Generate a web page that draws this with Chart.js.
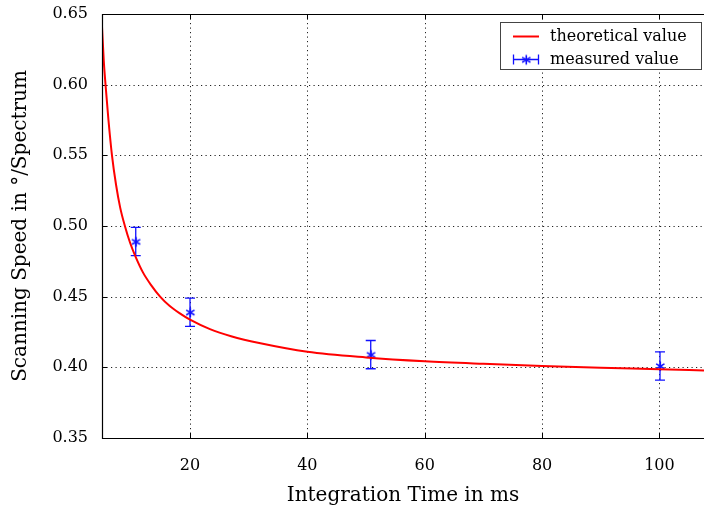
<!DOCTYPE html>
<html>
<head>
<meta charset="utf-8">
<script src="https://cdn.jsdelivr.net/npm/chart.js@4"></script>
<style>
    html, body { margin: 0; padding: 0; background: #fff; }
    #wrap { width: 704px; height: 511px; }
</style>
</head>
<body>
<div id="wrap"><canvas id="speedChart" width="704" height="511"></canvas></div>
<script>
const xTicks = [20, 40, 60, 80, 100];
const yTicks = [0.35, 0.40, 0.45, 0.50, 0.55, 0.60, 0.65];

// theoretical curve
const theoryX = [5.0, 5.3, 5.6, 6.1, 6.7, 7.4, 8.1, 8.9, 9.8, 10.75, 12.0, 13.4, 14.9, 16.5, 18.2, 20.0,
    23.4, 27.0, 32.0, 40.0, 50.0, 60.0, 70.0, 80.0, 90.0, 100.0, 107.6];
const theoryY = [0.641, 0.617, 0.600, 0.575, 0.550, 0.529, 0.513, 0.500, 0.488, 0.478, 0.467, 0.458, 0.450, 0.4435, 0.4383, 0.4337,
    0.427, 0.422, 0.417, 0.411, 0.407, 0.4043, 0.4025, 0.4010, 0.3997, 0.3987, 0.3978];

// measured points with their error
const measX = [10.75, 20.0, 50.8, 100.1];
const measY = [0.489, 0.439, 0.409, 0.401];
const measErr = [0.01, 0.01, 0.01, 0.01];

const blue = '#1010ff';
const red = '#ff0000';

// asterisk marker (3 strokes)
function makeAsterisk(r) {
    const c = document.createElement('canvas');
    const s = r * 2 + 3;
    c.width = s; c.height = s;
    const g = c.getContext('2d');
    g.strokeStyle = blue;
    g.lineWidth = 1.6;
    g.translate(s / 2, s / 2);
    for (let k = 0; k < 3; k++) {
        const a = Math.PI / 2 + k * Math.PI / 3;
        g.beginPath();
        g.moveTo(Math.cos(a) * r, Math.sin(a) * r);
        g.lineTo(-Math.cos(a) * r, -Math.sin(a) * r);
        g.stroke();
    }
    return c;
}
const star = makeAsterisk(4.8);

function drawErrBar(ctx, x, yTop, yBot) {
    ctx.beginPath();
    ctx.moveTo(x, yTop); ctx.lineTo(x, yBot);
    ctx.moveTo(x - 5, yTop); ctx.lineTo(x + 5, yTop);
    ctx.moveTo(x - 5, yBot); ctx.lineTo(x + 5, yBot);
    ctx.stroke();
}

const framePlugin = {
    id: 'frame',
    beforeDatasetsDraw(chart) {
        const ctx = chart.ctx;
        const area = chart.chartArea;
        const xs = chart.scales.x, ys = chart.scales.y;
        ctx.save();
        // dotted grid
        ctx.strokeStyle = '#222';
        ctx.lineWidth = 1;
        ctx.setLineDash([1.2, 3.3]);
        xTicks.forEach(v => {
            const px = Math.round(xs.getPixelForValue(v)) + 0.5;
            ctx.beginPath(); ctx.moveTo(px, area.top); ctx.lineTo(px, area.bottom); ctx.stroke();
        });
        yTicks.slice(1, -1).forEach(v => {
            const py = Math.round(ys.getPixelForValue(v)) + 0.5;
            ctx.beginPath(); ctx.moveTo(area.left, py); ctx.lineTo(area.right, py); ctx.stroke();
        });
        ctx.setLineDash([]);
        // inner tick marks
        ctx.strokeStyle = '#000';
        xTicks.forEach(v => {
            const px = Math.round(xs.getPixelForValue(v)) + 0.5;
            ctx.beginPath();
            ctx.moveTo(px, area.bottom); ctx.lineTo(px, area.bottom - 5);
            ctx.moveTo(px, area.top); ctx.lineTo(px, area.top + 5);
            ctx.stroke();
        });
        yTicks.forEach(v => {
            const py = Math.round(ys.getPixelForValue(v)) + 0.5;
            ctx.beginPath(); ctx.moveTo(area.left, py); ctx.lineTo(area.left + 5, py); ctx.stroke();
        });
        // error bars
        ctx.strokeStyle = blue;
        ctx.lineWidth = 1.3;
        measX.forEach((v, i) => {
            const px = xs.getPixelForValue(v);
            drawErrBar(ctx, px, ys.getPixelForValue(measY[i] + measErr[i]), ys.getPixelForValue(measY[i] - measErr[i]));
        });
        ctx.restore();
    },
    afterDraw(chart) {
        const ctx = chart.ctx;
        const area = chart.chartArea;
        ctx.save();
        // axis border: left, top, bottom
        ctx.strokeStyle = '#000';
        ctx.lineWidth = 1.2;
        ctx.beginPath();
        ctx.moveTo(area.right, area.top + 0.5);
        ctx.lineTo(area.left + 0.5, area.top + 0.5);
        ctx.lineTo(area.left + 0.5, area.bottom + 0.5);
        ctx.lineTo(area.right, area.bottom + 0.5);
        ctx.stroke();

        // legend box
        const bx = 500.5, by = 22.5, bw = 201, bh = 47;
        ctx.fillStyle = '#fff';
        ctx.fillRect(bx, by, bw, bh);
        ctx.strokeStyle = '#444';
        ctx.lineWidth = 1;
        ctx.strokeRect(bx, by, bw, bh);
        const y1 = 36.5, y2 = 59.5;
        ctx.strokeStyle = red;
        ctx.lineWidth = 2;
        ctx.beginPath(); ctx.moveTo(513, y1); ctx.lineTo(539, y1); ctx.stroke();
        ctx.strokeStyle = blue;
        ctx.lineWidth = 1.3;
        ctx.beginPath();
        ctx.moveTo(513, y2); ctx.lineTo(539, y2);
        ctx.moveTo(513.5, y2 - 5); ctx.lineTo(513.5, y2 + 5);
        ctx.moveTo(538.5, y2 - 5); ctx.lineTo(538.5, y2 + 5);
        ctx.stroke();
        ctx.drawImage(star, 526 - star.width / 2, y2 - star.height / 2);
        ctx.fillStyle = '#000';
        ctx.font = '16px "DejaVu Serif"';
        ctx.textBaseline = 'middle';
        ctx.fillText('theoretical value', 550, y1);
        ctx.fillText('measured value', 550, y2);
        ctx.restore();
    }
};

Chart.defaults.color = '#000';
Chart.defaults.font.family = '"DejaVu Serif", serif';

new Chart(document.getElementById('speedChart').getContext('2d'), {
    type: 'line',
    data: {
        datasets: [
            {
                label: 'theoretical value',
                data: theoryX.map((x, i) => ({ x: x, y: theoryY[i] })),
                borderColor: red,
                borderWidth: 2,
                pointRadius: 0,
                fill: false,
                cubicInterpolationMode: 'monotone'
            },
            {
                label: 'measured value',
                data: measX.map((x, i) => ({ x: x, y: measY[i] })),
                showLine: false,
                pointStyle: star,
                pointRadius: 5,
                borderColor: blue,
                backgroundColor: blue
            }
        ]
    },
    options: {
        responsive: false,
        animation: false,
        layout: { autoPadding: false, padding: { top: 14, right: 0, left: 0, bottom: 0 } },
        plugins: {
            legend: { display: false },
            tooltip: { enabled: false }
        },
        scales: {
            x: {
                type: 'linear',
                min: 5,
                max: 107.6,
                afterBuildTicks: s => { s.ticks = xTicks.map(v => ({ value: v })); },
                afterFit: s => { s.height = 73; s.paddingLeft = 0; s.paddingRight = 0; },
                grid: { display: false, drawTicks: false },
                border: { display: false },
                ticks: { padding: 18, font: { size: 16 }, callback: v => String(v) },
                title: { display: true, text: 'Integration Time in ms', font: { size: 20 }, padding: { top: 0, bottom: 3 } }
            },
            y: {
                min: 0.35,
                max: 0.65,
                afterBuildTicks: s => { s.ticks = yTicks.map(v => ({ value: v })); },
                afterFit: s => { s.width = 102; s.paddingTop = 0; s.paddingBottom = 0; },
                grid: { display: false, drawTicks: false },
                border: { display: false },
                ticks: { padding: 14, font: { size: 16 }, callback: v => v.toFixed(2) },
                title: { display: true, text: 'Scanning Speed in °/Spectrum', font: { size: 20 }, padding: { top: 9, bottom: 0 } }
            }
        }
    },
    plugins: [framePlugin]
});
</script>
</body>
</html>
